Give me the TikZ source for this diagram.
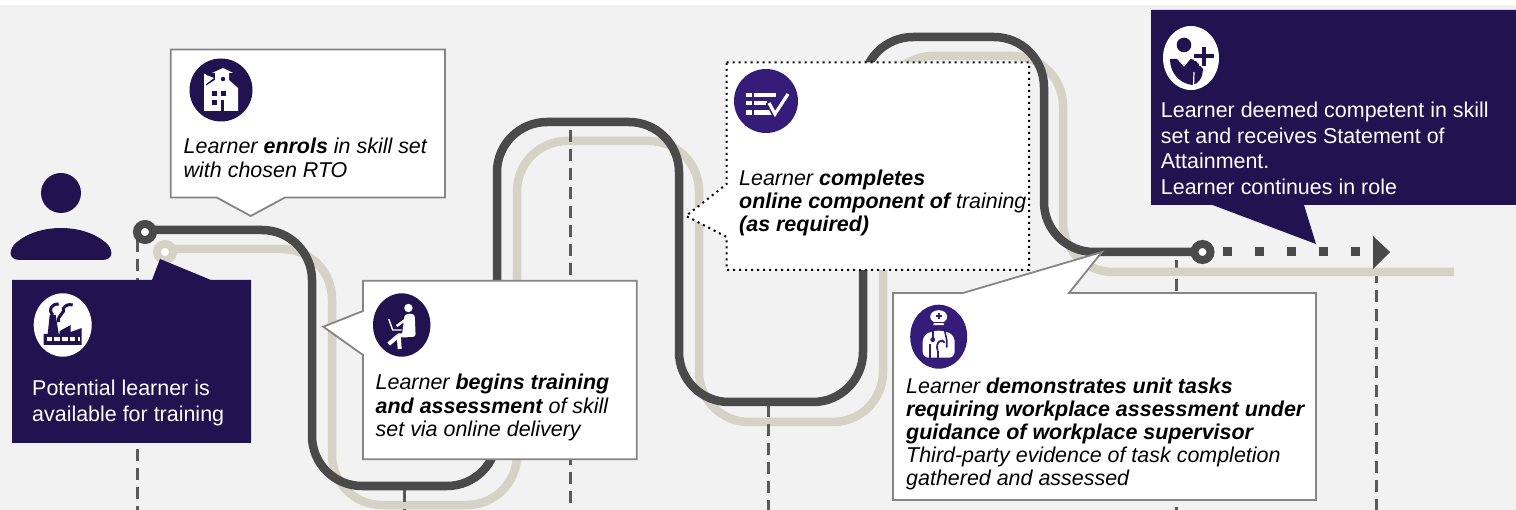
\documentclass[tikz,border=0pt]{standalone}
\usepackage{fontspec}
\setmainfont{Liberation Sans}
\usetikzlibrary{positioning}
\definecolor{navy}{HTML}{21134F}
\definecolor{violet}{HTML}{351C78}
\definecolor{trackdark}{HTML}{4A4A4A}
\definecolor{trackpale}{HTML}{D5D2C6}
\definecolor{panel}{HTML}{F2F2F2}
\definecolor{edgegrey}{HTML}{858585}
\definecolor{dashgrey}{HTML}{5A5A5A}

\begin{document}
\begin{tikzpicture}[x=1pt,y=-1pt,
  darkline/.style={draw=trackdark,line width=8.5pt,rounded corners=50pt},
  paleline/.style={draw=trackpale,line width=8.5pt,rounded corners=50pt},
  ring/.style={circle,fill=white,line width=8pt,minimum size=16pt,inner sep=0pt,outer sep=0pt},
  dropline/.style={draw=dashgrey,line width=3pt,dash pattern=on 12pt off 7pt},
  greybox/.style={draw=edgegrey,fill=white,line width=1.8pt},
  dotbox/.style={draw=black,fill=white,line width=2pt,dash pattern=on 2pt off 4pt},
  navybox/.style={fill=navy},
  blacktext/.style={anchor=north west,inner sep=0pt,align=left,font=\fontsize{21.45}{#1}\selectfont\itshape},
  whitetext/.style={anchor=north west,inner sep=0pt,align=left,text=white,font=\fontsize{21.45}{#1}\selectfont}]
\useasboundingbox (0,0) rectangle (1516,510);
\fill[panel] (0,5) rectangle (1516,510);

\draw[dropline] (1176,260)--(1176,510);
\draw[dropline] (1376,252)--(1376,510);
\draw[paleline] (165,249)--(332,249)--(332,505)--(517,505)--(517,141)--(699,141)--(699,422)--(883,422)--(883,56)--(1063,56)--(1063,272)--(1454,272);
\node[ring,draw=trackpale] (palestart) at (165,252) {};
\draw[dropline] (137,240)--(137,510);
\draw[dropline] (404,490)--(404,510);
\draw[dropline] (570,130)--(570,510);
\draw[dropline] (768,405)--(768,510);
\draw[darkline] (145,230)--(312,230)--(312,486)--(497,486)--(497,122)--(679,122)--(679,402)--(863,402)--(863,37)--(1044,37)--(1044,252)--(1202,252);
\node[ring,draw=trackdark] (darkstart) at (145,232) {};
\node[ring,draw=trackdark] (darkend) at (1202.5,252) {};
\draw[draw=trackdark,line width=9pt,dash pattern=on 9pt off 23pt] (1222.5,252)--(1360,252);
\fill[trackdark] (1373,236)--(1390,252)--(1373,269)--cycle;

% learner figure
\fill[navy] (61,193) circle (20);
\fill[navy] (20,260) .. controls (8,260) and (8,249) .. (17,242) .. controls (29,232) and (46,228) .. (61,228) .. controls (76,228) and (93,232) .. (105,242) .. controls (114,249) and (114,260) .. (102,260) -- cycle;

% boxes
\fill[navybox] (12,280)--(152,280)--(160,259)--(211,280)--(251,280)--(251,443)--(12,443)--cycle;
\draw[greybox] (170.7,49.5)--(445,49.5)--(445,197.5)--(285,197.5)--(250.7,216)--(216.7,197.5)--(170.7,197.5)--cycle;
\draw[greybox] (363,280.7)--(636.7,280.7)--(636.7,459.3)--(363,459.3)--(363,355)--(323.3,326.7)--(363,311)--cycle;
\draw[dotbox] (726.7,62.3)--(1029,62.3)--(1029,270)--(726.7,270)--(726.7,237)--(686,216)--(726.7,184)--cycle;
\draw[greybox] (893,293)--(963,293)--(1102,252)--(1069,293)--(1316,293)--(1316,500)--(893,500)--cycle;
\fill[navybox] (1151,10)--(1516,10)--(1516,205)--(1304,205)--(1316,244)--(1212.5,205)--(1151,205)--cycle;

% school icon
\begin{scope}[shift={(221,90)}]
\fill[navy] (0,0) circle (31.5);
\fill[white] (-17,21)--(-17,-3)--(-6,-10)--(-6,-17)--(-9,-17)--(2,-22)--(12,-17)--(8,-17)--(8,-10)--(17,-2)--(17,21)--cycle;
\fill[white] (-17,-16) rectangle (-15.5,-3);
\fill[white] (-15,-15)--(-7,-12)--(-15,-6)--cycle;
\fill[navy] (2,-11) circle (2.2);
\fill[navy] (-9.5,1) rectangle (-4,6.5);
\fill[navy] (-0.5,1) rectangle (5,6.5);
\fill[navy] (-9.5,10) rectangle (-4,15.5);
\fill[navy] (-0.5,10) rectangle (3,21);
\end{scope}

% factory icon
\begin{scope}[shift={(62.7,325)}]
\fill[white] (0,0) ellipse (29 and 31.7);
\fill[navy] (-19,20)--(-19,9)--(-15,9)--(-13,-10)--(-7,-10)--(-4,9)--(-3,9)--(-3,6)--(8,0)--(8,7)--(19,3)--(19,20)--cycle;
\draw[navy,line width=3pt] (-10,-10) .. controls (-15,-16) and (-11,-21) .. (-4,-21);
\draw[navy,line width=3pt] (-4,-3) .. controls (-6,-10) and (3,-12) .. (1,-17) .. controls (3,-20) and (6,-21) .. (10,-20);
\draw[white,line width=4pt,dash pattern=on 5.5pt off 2.2pt] (-16,14)--(17,14);
\end{scope}

% laptop icon
\begin{scope}[shift={(401.7,325)}]
\fill[navy] (0,0) ellipse (28.7 and 31.7);
\fill[white] (6.7,-17) circle (4.2);
\fill[white,rounded corners=3pt] (3,-11)--(13,-11)--(14,12)--(0,12)--cycle;
\draw[white,line width=1.4pt] (-13,-6)--(-9,5)--(0,5);
\draw[white,line width=2.5pt] (6,-7)--(-5,1);
\draw[white,line width=4pt] (6,10.5)--(-3,10.5)--(-13,19);
\draw[white,line width=4pt] (-3,10.5)--(-2,24);
\end{scope}

% checklist icon
\begin{scope}[shift={(766,101)}]
\fill[violet] (0,0) circle (32);
\fill[white] (-20.5,-8) rectangle (-14.5,-4);
\fill[white] (-20.5,0) rectangle (-14.5,4.5);
\fill[white] (-20.5,9) rectangle (-14.5,14);
\fill[white] (-12,-8) rectangle (9.5,-4);
\fill[white] (-12,0) rectangle (1,4.5);
\fill[white] (-12,9) rectangle (6,14);
\draw[violet,line width=6.5pt] (2.5,1)--(9,13)--(22,-7);
\draw[white,line width=3.2pt] (3,2)--(9,13)--(22,-7);
\end{scope}

% doctor icon
\begin{scope}[shift={(938.7,336.7)}]
\fill[violet] (0,0) ellipse (28.5 and 32);
\fill[white] (0,-20) ellipse (8.5 and 6.5);
\fill[white] (-5.5,-11.5) arc (180:360:5.5) --cycle;
\draw[violet,line width=1.4pt] (-5.5,-14)--(5.5,-14);
\fill[violet] (-1,-24) rectangle (1,-18);
\fill[violet] (-3,-22) rectangle (3,-20);
\fill[white,rounded corners=6pt] (-16,21)--(-16,-1)--(-6,-6)--(6,-6)--(16,-1)--(16,21)--cycle;
\draw[violet,line width=1.6pt] (-6,-6)--(-6,3);
\fill[violet] (-6,3) circle (2.4);
\draw[violet,line width=1.6pt] (-9,7)--(-9,21);
\draw[violet,line width=1.6pt] (6,-6)--(8,3)--(8,11);
\draw[violet,line width=1.8pt] (-1,14) .. controls (-4,5) and (4,1) .. (6,6);
\draw[violet,line width=1.8pt] (-1,14)--(-1,21);
\end{scope}

% competent icon
\begin{scope}[shift={(1191,58)}]
\fill[white] (0,0) ellipse (28 and 32);
\fill[navy] (-7,-13) circle (7.3);
\fill[navy] (-21,1)--(-14,1)--(-7,9)--(-0.5,1)--(4,2)--(12,11)--(11,18) .. controls (10,21) and (8,23) .. (6,25)--(1,27) .. controls (-12,25) and (-21,15) .. (-21,1)--cycle;
\draw[white,line width=1.2pt] (3,14)--(2.5,28);
\draw[white,line width=10pt] (13,-11)--(13,8);
\draw[white,line width=10pt] (3,-2)--(23,-2);
\draw[navy,line width=4.5pt] (13,-11)--(13,8);
\draw[navy,line width=4.5pt] (3,-2)--(23,-2);
\end{scope}

% texts
\node[whitetext=26] (availabletext) at (32,380) {Potential learner is\\available for training};
\node[blacktext=24.3] (enroltext) at (183.5,137.5) {Learner {\bfseries enrols} in skill set\\with chosen RTO};
\node[blacktext=23.3] (begintext) at (375.5,374) {Learner {\bfseries begins training}\\{\bfseries and assessment} of skill\\set via online delivery};
\node[blacktext=23] (onlinetext) at (739,170) {Learner {\bfseries completes}\\{\bfseries online component of} training\\{\bfseries (as required)}};
\node[blacktext=23] (demotext) at (906,377.7) {Learner {\bfseries demonstrates unit tasks}\\{\bfseries requiring workplace assessment under}\\{\bfseries guidance of workplace supervisor}\\Third-party evidence of task completion\\gathered and assessed};
\node[whitetext=25.7] (competenttext) at (1160.7,101.7) {Learner deemed competent in skill\\set and receives Statement of\\Attainment.\\Learner continues in role};
\end{tikzpicture}
\end{document}
